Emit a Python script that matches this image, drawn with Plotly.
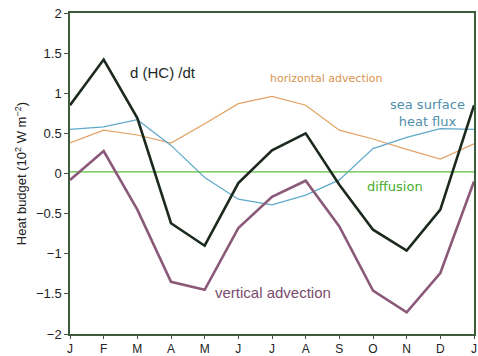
import plotly.graph_objects as go

months = ["J", "F", "M", "A", "M", "J", "J", "A", "S", "O", "N", "D", "J"]
x_pos = list(range(len(months)))

d_hc_dt = [0.85, 1.42, 0.69, -0.62, -0.90, -0.12, 0.29, 0.50, -0.14, -0.70, -0.96, -0.45, 0.85]
horizontal_adv = [0.38, 0.54, 0.48, 0.38, 0.62, 0.87, 0.96, 0.85, 0.54, 0.43, 0.30, 0.18, 0.37]
sea_surface_flux = [0.55, 0.58, 0.67, 0.35, -0.05, -0.32, -0.39, -0.27, -0.08, 0.31, 0.45, 0.56, 0.55]
diffusion = [0.02] * 13
vertical_adv = [-0.08, 0.28, -0.45, -1.35, -1.45, -0.68, -0.29, -0.09, -0.66, -1.46, -1.73, -1.24, -0.10]

y_ticks = [-2, -1.5, -1, -0.5, 0, 0.5, 1, 1.5, 2]

series = [
    (horizontal_adv, "#e2a263", 1.2),
    (sea_surface_flux, "#5fa9c9", 1.2),
    (diffusion, "#5bbf3c", 1.3),
    (vertical_adv, "#8a5a78", 2.6),
    (d_hc_dt, "#1c2a1e", 2.6),
]

fig = go.Figure()
for ys, color, width in series:
    fig.add_trace(go.Scatter(x=x_pos, y=ys, mode="lines",
                             line=dict(color=color, width=width),
                             showlegend=False, hoverinfo="skip"))

labels = [
    ("d (HC) /dt", 2.76, 1.26, "#1c2a1e", 15, "Liberation Sans"),
    ("horizontal advection", 7.63, 1.19, "#d8944e", 11, "DejaVu Sans"),
    ("sea surface<br>heat flux", 10.62, 0.75, "#4f8fad", 13, "DejaVu Sans"),
    ("diffusion", 9.64, -0.16, "#46ad2c", 13, "DejaVu Sans"),
    ("vertical advection", 6.04, -1.48, "#7a4c6e", 15, "Liberation Sans"),
]
for text, lx, ly, color, size, family in labels:
    fig.add_annotation(x=lx, y=ly, text=text, showarrow=False,
                       font=dict(color=color, size=size, family=family),
                       align="center")

fig.update_layout(
    width=478, height=356,
    margin=dict(l=70, r=4, t=13, b=22),
    paper_bgcolor="white", plot_bgcolor="white",
    font=dict(family="Liberation Sans, Arial, sans-serif", color="#222222", size=13),
)
fig.update_xaxes(
    range=[0, 12], tickmode="array", tickvals=x_pos, ticktext=months,
    showgrid=False, zeroline=False, showline=True, linecolor="#3d5a3d",
    linewidth=1.5, mirror=True, ticks="outside", ticklen=3, tickcolor="#3d5a3d",
    tickfont=dict(size=12), automargin=False,
)
fig.update_yaxes(
    range=[-2, 2], tickmode="array", tickvals=y_ticks,
    ticktext=["\u22122", "\u22121.5", "\u22121", "\u22120.5", "0", "0.5", "1", "1.5", "2"],
    showgrid=False, zeroline=False, showline=True, linecolor="#3d5a3d",
    linewidth=1.5, mirror=True, ticks="outside", ticklen=4, tickcolor="#3d5a3d",
    tickfont=dict(size=13), automargin=False,
    title=dict(text="Heat budget (10<sup>2</sup> W m<sup>\u22122</sup>)",
               font=dict(size=13), standoff=6),
)

fig.write_html("out.html")
